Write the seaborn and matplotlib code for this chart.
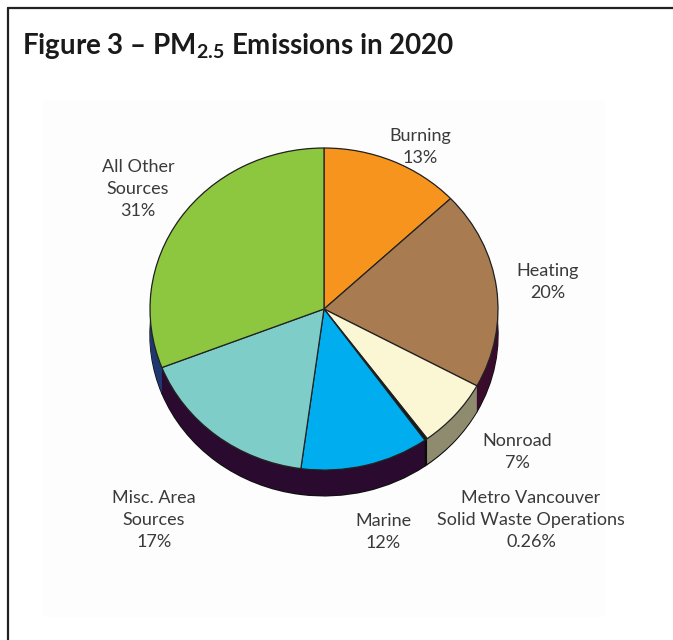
import numpy as np
import matplotlib
matplotlib.use("Agg")
import matplotlib.pyplot as plt
from matplotlib.lines import Line2D
from matplotlib.patches import Rectangle
import seaborn as sns

# ---- data ----
categories = ["Burning", "Heating", "Nonroad", "Metro Vancouver\nSolid Waste Operations",
              "Marine", "Misc. Area\nSources", "All Other\nSources"]
shares = [13, 20, 7, 0.26, 12, 17, 31]
share_labels = ["13%", "20%", "7%", "0.26%", "12%", "17%", "31%"]
title = "Figure 3 – PM$_{\\mathbf{2.5}}$ Emissions in 2020"

# ---- style ----
sns.set_theme(style="white")
plt.rcParams["font.family"] = ["Lato", "DejaVu Sans"]
plt.rcParams["mathtext.fontset"] = "custom"
plt.rcParams["mathtext.bf"] = "Lato:bold"
plt.rcParams["mathtext.rm"] = "Lato"

top_colors = ["#F7941D", "#A87C50", "#FBF7D5", "#151515", "#00AEEF", "#7FCDC8", "#8DC63F"]
side_colors = ["#3A0C2C", "#3A0C2C", "#8E8B6E", "#0A0A0A", "#2B0A30", "#2B0A30", "#1F3870"]

fig = plt.figure(figsize=(6.73, 6.40), dpi=100)

# faint inner panel
fig.patches.append(Rectangle((43 / 673, 1 - 617 / 640), (605 - 43) / 673, (617 - 100) / 640,
                             transform=fig.transFigure, facecolor="#FDFDFD", edgecolor="none",
                             zorder=-5))
# frame lines (top and left)
fig.lines.append(Line2D([8 / 673, 1], [1 - 8 / 640, 1 - 8 / 640], transform=fig.transFigure,
                        color="#222222", lw=1.6))
fig.lines.append(Line2D([8 / 673, 8 / 673], [0, 1 - 8 / 640], transform=fig.transFigure,
                        color="#222222", lw=1.6))

fig.text(22 / 673, 1 - 46 / 640, title, fontsize=20, fontweight="bold", color="#1a1a1a",
         ha="left", va="center")

# pie axes: x from 150..498 px, y from 140..500 px (top)
ax = fig.add_axes([150 / 673, (640 - 500) / 640, 348 / 673, 360 / 640])
ax.set_zorder(2)
ax.patch.set_alpha(0)
depth = 0.16
nsteps = 40
for i, d in enumerate(np.linspace(depth, 0.0, nsteps)):
    ax.pie(shares, colors=side_colors, startangle=90, counterclock=False,
           center=(0, -d), radius=1.0,
           wedgeprops=dict(linewidth=1.0 if i == 0 else 0,
                           edgecolor="#111111" if i == 0 else "none"))
ax.pie(shares, colors=top_colors, startangle=90, counterclock=False,
       center=(0, 0), radius=1.0,
       wedgeprops=dict(linewidth=0.9, edgecolor="#222222"))
ax.set_aspect("auto")
ax.set_xlim(-1, 1)
ax.set_ylim(-1.186, 1.0497)
ax.axis("off")

# label positions (pixel centres, layout only)
label_pos = [(420, 147), (548, 282), (517, 452), (531, 520), (383, 532), (154, 520), (138, 189)]
for cat, lab, (px, py) in zip(categories, share_labels, label_pos):
    fig.text(px / 673, 1 - py / 640, f"{cat}\n{lab}", ha="center", va="center",
             fontsize=13, color="#3a3a3a", linespacing=1.45, zorder=3)

fig.savefig("out.png", dpi=100)
